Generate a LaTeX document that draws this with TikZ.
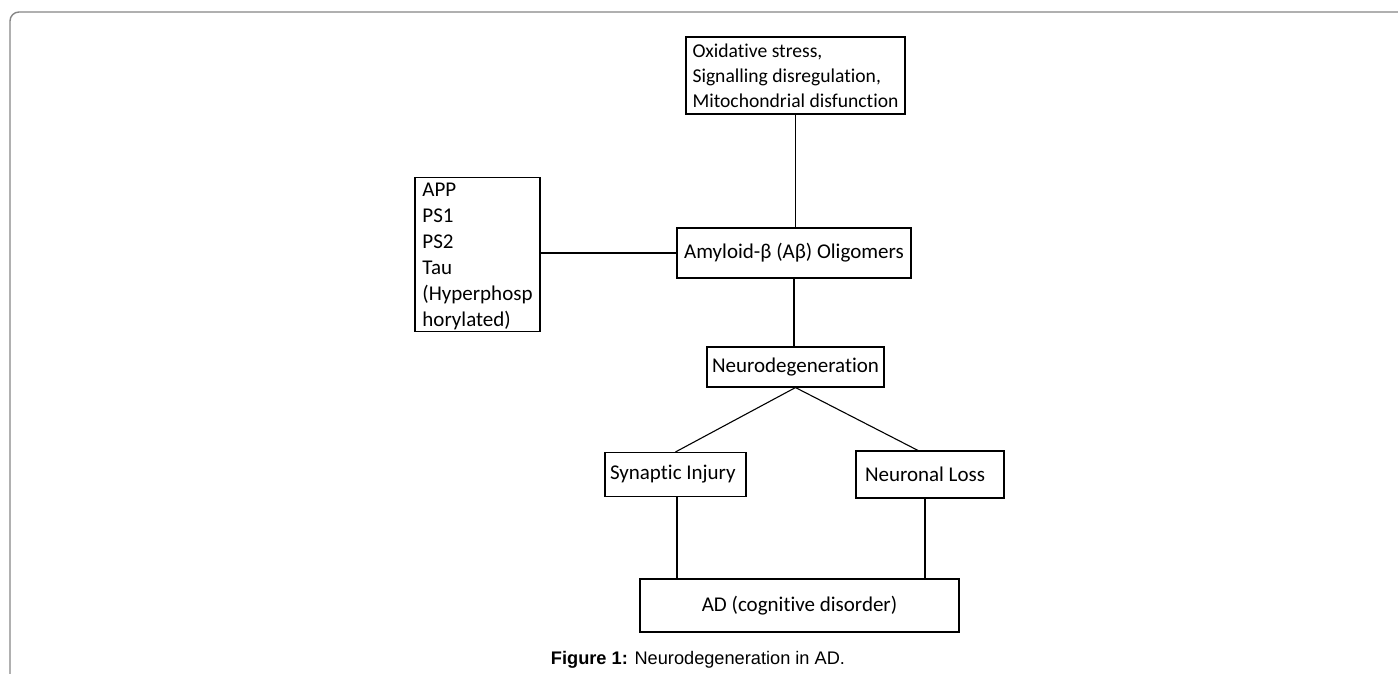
\documentclass[tikz,border=0pt]{standalone}
\usepackage{fontspec}
\setmainfont{Carlito}[Ligatures=NoCommon]
\newfontfamily\capfont{Liberation Sans}
\usetikzlibrary{positioning}

\begin{document}
\begin{tikzpicture}[x=1pt,y=-1pt,line width=1.1pt,
  font=\fontsize{21}{26}\selectfont,
  box/.style={draw,inner sep=0pt,minimum width=#1},
  listbox/.style={draw,align=left,inner xsep=4pt,inner ysep=0pt,minimum width=#1}]
\useasboundingbox (0,0) rectangle (1398,673);
\draw[gray!95!white,line width=1.4pt,rounded corners=9pt] (10,675)--(10,12)--(1402,12);

\node[listbox=219pt,minimum height=77pt,font=\fontsize{19.6}{25}\selectfont] (stress) at (795.5,75.5) {Oxidative stress,\\Signalling disregulation,\\Mitochondrial disfunction};
\node[listbox=125pt,minimum height=154pt] (genes) at (477.5,254.5) {APP\\PS1\\PS2\\Tau\\(Hyperphosp\\\raisebox{0pt}[\height][0pt]{horylated)}};
\node[box=234pt,minimum height=50pt] (abeta) at (794,253) {Amyloid-β (Aβ) Oligomers};
\node[box=177pt,minimum height=40pt] (neuro) at (795.5,367) {Neurodegeneration};
\node[box=141pt,minimum height=44pt,inner xsep=5pt] (synapse) at (675.5,474.5) {\makebox[131pt][l]{Synaptic Injury}};
\node[box=148pt,minimum height=47pt,inner xsep=9pt] (loss) at (930,474.5) {\makebox[130pt][l]{Neuronal Loss}};
\node[box=319pt,minimum height=53pt] (ad) at (799.5,605.5) {AD (cognitive disorder)};

\draw (stress.south)--(stress.south |- abeta.north);
\draw (genes.east |- abeta.west)--(abeta.west);
\draw (abeta.south)--(abeta.south |- neuro.north);
\draw (neuro.south)--(synapse.north);
\draw (neuro.south)--([xshift=-12pt]loss.north);
\draw ([xshift=1.5pt]synapse.south)--([xshift=1.5pt]synapse.south |- ad.north);
\draw ([xshift=-5pt]loss.south)--([xshift=-5pt]loss.south |- ad.north);

\node[font=\capfont\fontsize{18.2}{21}\selectfont] (caption) at (698,660) {\textbf{Figure 1:} Neurodegeneration in AD.};
\end{tikzpicture}
\end{document}
